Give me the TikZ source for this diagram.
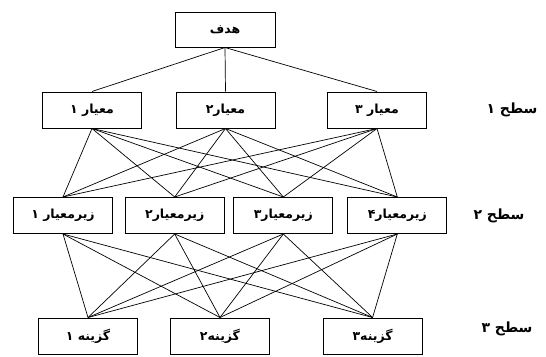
\documentclass[tikz,border=0pt]{standalone}
\usepackage{fontspec}
\newfontfamily\farsi[Script=Arabic]{DejaVu Sans}
\TeXXeTstate=1
\usetikzlibrary{positioning}
\tikzset{
every path/.style={line width=0.7pt}, % thin connectors
box/.style={draw, line width=1pt, rectangle, minimum width=99pt, minimum height=36pt, font=\farsi\bfseries\fontsize{12.5}{15}\selectfont},
lvl/.style={font=\farsi\bfseries\fontsize{14}{16}\selectfont},
on grid
}
\newcommand\fa[1]{\beginR #1\endR}

\begin{document}
\begin{tikzpicture}
   \useasboundingbox (0,0) rectangle (546pt,-356pt);
   % goal
   \node[box, minimum width=100pt, minimum height=35pt] (goal) at (225pt,-29.5pt) {\fa{هدف}};
   % level 1
   \node[box] (c1) at (92pt,-110pt) {\fa{معیار ۱}};
   \node[box] (c2) [right=133.5pt of c1] {\fa{معیار۲}};
   \node[box] (c3) [right=151.5pt of c2] {\fa{معیار ۳}};
   % level 2
   \node[box] (s1) at (63pt,-215.5pt) {\fa{زیرمعیار ۱}};
   \node[box] (s2) [right=111.7pt of s1] {\fa{زیرمعیار۲}};
   \node[box] (s3) [right=108.6pt of s2] {\fa{زیرمعیار۳}};
   \node[box] (s4) [right=114pt of s3] {\fa{زیرمعیار۴}};
   % level 3
   \node[box] (a1) at (88pt,-336pt) {\fa{گزینه ۱}};
   \node[box] (a2) [right=132pt of a1] {\fa{گزینه۲}};
   \node[box] (a3) [right=152.6pt of a2] {\fa{گزینه۳}};
   % level names
   \node[lvl] (l1) at (512pt,-110pt) {\fa{سطح ۱}};
   \node[lvl] (l2) at (499pt,-216pt) {\fa{سطح ۲}};
   \node[lvl] (l3) at (507pt,-329pt) {\fa{سطح ۳}};
   \path
    (goal.south) edge (c1.north) edge (c2.north) edge (c3.north)
    (c1.south) edge (s1.north) edge (s2.north) edge (s3.north) edge (s4.north)
    (c2.south) edge (s1.north) edge (s2.north) edge (s3.north) edge (s4.north)
    (c3.south) edge (s1.north) edge (s2.north) edge (s3.north) edge (s4.north)
    (s1.south) edge (a1.north) edge (a2.north) edge (a3.north)
    (s2.south) edge (a1.north) edge (a2.north) edge (a3.north)
    (s3.south) edge (a1.north) edge (a2.north) edge (a3.north)
    (s4.south) edge (a1.north) edge (a2.north) edge (a3.north);
\end{tikzpicture}
\end{document}
